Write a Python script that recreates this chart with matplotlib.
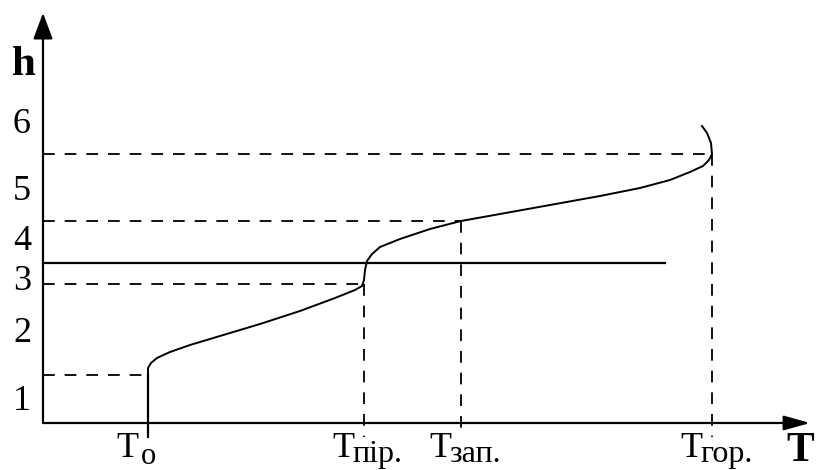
import matplotlib
matplotlib.use("Agg")
import matplotlib.pyplot as plt

plt.rcParams["font.family"] = ["Liberation Serif", "DejaVu Serif"]

# chart units: origin at the axes crossing, 1 unit ~ 1 px of the original
T_names = ["o", "пір.", "зап.", "гор."]
T_vals = [105, 321, 418, 669]
h_levels = [48, 139, 202, 269]          # dashed levels matching T_vals
h_line = 160                            # solid horizontal line
h_line_end = 622
h_labels = ["1", "2", "3", "4", "5", "6"]
h_label_y = [13, 81, 133, 173, 223, 290]

curve_T = [105, 105, 108, 114, 127, 147, 177, 217, 257, 292, 312, 319, 321,
           322, 324, 329, 337, 357, 387, 418, 457, 507, 557, 597, 627, 647,
           660, 666, 669, 668, 664, 659]
curve_h = [48, 55, 60, 65, 71, 78, 87, 99, 112, 125, 133, 137, 143,
           153, 162, 169, 176, 184, 194, 202, 209, 218, 227, 235, 243, 251,
           257, 263, 269, 280, 290, 297]

fig = plt.figure(figsize=(8.16, 4.70), dpi=100)
ax = fig.add_axes([0, 0, 1, 1])
ax.set_xlim(-43, 773)
ax.set_ylim(-47, 423)
ax.axis("off")

dash = (6.5, 5.5)

# axes with arrows
ax.annotate("", xy=(0, 410), xytext=(0, 0),
            arrowprops=dict(arrowstyle="-|>,head_length=1.6,head_width=0.6",
                            lw=1.6, color="black", shrinkA=0, shrinkB=0,
                            mutation_scale=10))
ax.annotate("", xy=(767, 0), xytext=(0, 0),
            arrowprops=dict(arrowstyle="-|>,head_length=1.6,head_width=0.45",
                            lw=1.6, color="black", shrinkA=0, shrinkB=0,
                            mutation_scale=10))

# dashed guide lines
for i, (t, h) in enumerate(zip(T_vals, h_levels)):
    ax.plot([0, t], [h, h], color="black", lw=1.3, dashes=dash)
    if i == 0:
        ax.plot([t, t], [-14, h], color="black", lw=1.6)
    else:
        ax.plot([t, t], [h, -14], color="black", lw=1.3, dashes=dash)

# solid horizontal line
ax.plot([0, h_line_end], [h_line, h_line], color="black", lw=1.6)

# curve
ax.plot(curve_T, curve_h, color="black", lw=1.4)

# h labels
for lab, y in zip(h_labels, h_label_y):
    ax.text(-21, y, lab, fontsize=26, ha="center", va="baseline")
ax.text(-19, 348, "h", fontsize=31, fontweight="bold", ha="center", va="baseline")

# T labels
for name, t in zip(T_names, T_vals):
    ax.text(t - 10, -34, "T", fontsize=26, ha="right", va="baseline")
    if name == "o":
        ax.text(t - 7, -41, "o", fontsize=22, ha="left", va="baseline")
    else:
        ax.text(t - 12, -39, name, fontsize=23, ha="left", va="baseline")
ax.text(757, -38, "T", fontsize=30, fontweight="bold", ha="center", va="baseline")

fig.savefig("out.png", dpi=100)
